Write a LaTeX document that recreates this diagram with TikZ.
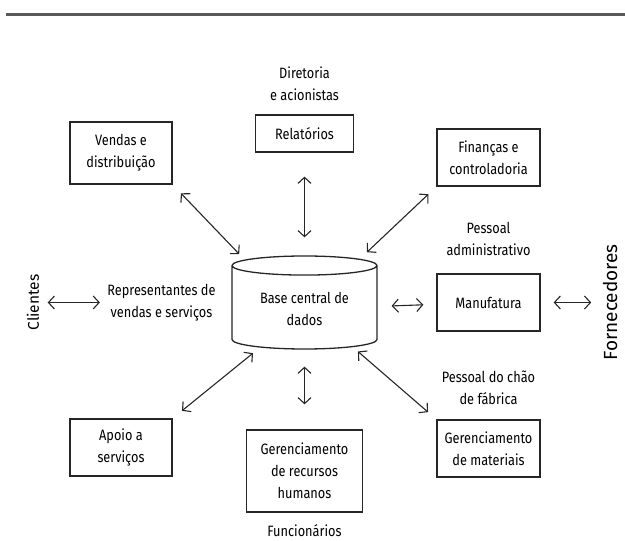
\documentclass[tikz,border=0pt]{standalone}
\usepackage{fontspec}
\setmainfont{Fira Sans}[FakeStretch=0.85]
\newfontfamily\plainfont{Fira Sans}
\usetikzlibrary{arrows.meta,shapes.geometric}

\begin{document}
\begin{tikzpicture}[x=1pt,y=1pt,>={Straight Barb[length=6pt,width=13pt]},line width=1.1pt,font=\fontsize{15}{22}\selectfont]
\tikzstyle{box}=[draw=black!85,line width=1.3pt,align=center,minimum width=103pt,minimum height=57pt,inner sep=2pt]
\tikzstyle{lbl}=[align=center,inner sep=0pt]
\tikzstyle{link}=[<->,draw=black!85]
\useasboundingbox (0,0) rectangle (625,541);
\draw[line width=2.6pt,black!65] (6,526.5) -- (625,526.5);

% centre
\coordinate (hub) at (304.5,238.5);
\node[cylinder,shape border rotate=90,aspect=0.2,draw=black!85,line width=1.3pt,minimum width=145pt,minimum height=93pt,align=center,anchor=shape center] (base) at (hub) {Base central de\\dados};

% column in the middle
\node[box,minimum width=98pt,minimum height=37pt] (rel) [node distance=169pt,above of=hub] {Relatórios};
\node[lbl] (dir) [node distance=49.5pt,above of=rel] {Diretoria\\e acionistas};
\node[box,minimum width=116pt,minimum height=82pt] (rh) [node distance=168.5pt,below of=hub] {Gerenciamento\\de recursos\\humanos};
\node[lbl] (func) [node distance=60pt,below of=rh] {Funcionários};

% right column
\node[box] (manu) [node distance=184pt,right of=hub] {Manufatura};
\node[box] (fin) [node distance=145pt,above of=manu] {Finanças e\\controladoria};
\node[box] (mat) [node distance=146pt,below of=manu] {Gerenciamento\\de materiais};
\node[lbl] (adm) [node distance=63.5pt,above of=manu] {Pessoal\\administrativo};
\node[lbl] (chao) [node distance=61pt,above of=mat] {Pessoal do chão\\de fábrica};
% rotated: "below" turns into right
\node[lbl,rotate=90,font=\plainfont\fontsize{19}{22}\selectfont] (forn) [node distance=121.5pt,below of=manu] {Fornecedores};

% left column
\node[box,minimum width=102pt,minimum height=62pt] (vend) [node distance=183.5pt,left of=hub,yshift=149.5pt] {Vendas e\\distribuição};
\node[box,minimum width=102pt] (apoio) [node distance=183.5pt,left of=hub,yshift=-145pt] {Apoio a\\serviços};
\node[lbl] (rep) [node distance=143pt,left of=hub] {Representantes de\\vendas e serviços};
% rotated: "above" turns into left
\node[lbl,rotate=90,font=\plainfont\fontsize{15.5}{22}\selectfont] (cli) [node distance=128.5pt,above of=rep] {Clientes};

\draw[link,shorten <=24pt,shorten >=18pt] (rel) -- (base);
\draw[link,shorten <=17pt,shorten >=25pt] (base) -- (rh);
\draw[link,shorten <=14pt,shorten >=13pt] (base) -- (manu);
\draw[link,shorten <=13pt,shorten >=11pt] (manu) -- (forn);
\draw[link,shorten <=8pt,shorten >=7pt] (cli) -- (rep);
\draw[link,shorten <=12pt,shorten >=21pt] (vend.south east) -- ([yshift=-11pt]base.north west);
\draw[link,shorten <=11pt,shorten >=16pt] (fin.south west) -- ([yshift=-5pt]base.north east);
\draw[link,shorten <=12pt,shorten >=16pt] (apoio.north east) -- ([yshift=5pt]base.south west);
\draw[link,shorten <=11pt,shorten >=19pt] (mat.north west) -- ([yshift=9pt]base.south east);
\end{tikzpicture}
\end{document}
